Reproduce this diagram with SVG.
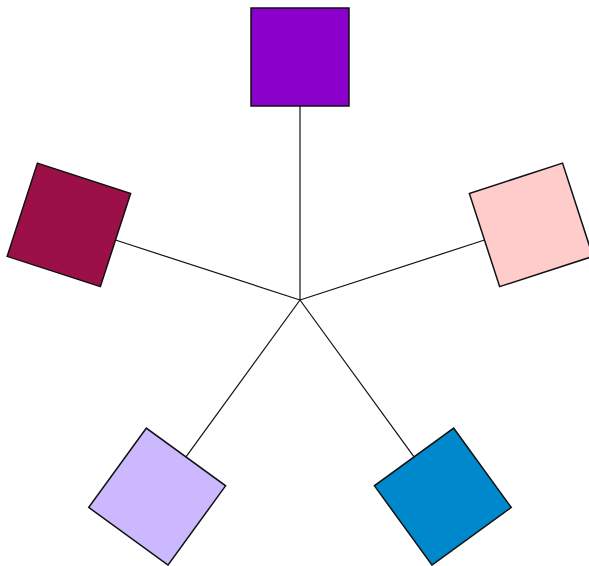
<svg xmlns="http://www.w3.org/2000/svg" width="589" height="566" viewBox="0 0 589 566">
<style>
.sq{stroke:#111;stroke-width:1.5}
.ln{stroke:#111;stroke-width:1.2;fill:none}
</style>
<rect width="589" height="566" fill="#fff"/>
<g id="connectors">
<line class="ln" x1="300" y1="300" x2="300" y2="106"/>
<line class="ln" x1="300" y1="300" x2="300" y2="106" transform="rotate(72 300 300)"/>
<line class="ln" x1="300" y1="300" x2="300" y2="106" transform="rotate(144 300 300)"/>
<line class="ln" x1="300" y1="300" x2="300" y2="106" transform="rotate(216 300 300)"/>
<line class="ln" x1="300" y1="300" x2="300" y2="106" transform="rotate(288 300 300)"/>
</g>
<g id="node-top"><rect class="sq" x="251" y="8" width="98" height="98" fill="#8C00CC"/></g>
<g id="node-right" transform="rotate(72 300 300)"><rect class="sq" x="251" y="8" width="98" height="98" fill="#FFCCCC"/></g>
<g id="node-bottom-right" transform="rotate(144 300 300)"><rect class="sq" x="251" y="8" width="98" height="98" fill="#0088CC"/></g>
<g id="node-bottom-left" transform="rotate(216 300 300)"><rect class="sq" x="251" y="8" width="98" height="98" fill="#CCB8FF"/></g>
<g id="node-left" transform="rotate(288 300 300)"><rect class="sq" x="251" y="8" width="98" height="98" fill="#9C1048"/></g>
</svg>
